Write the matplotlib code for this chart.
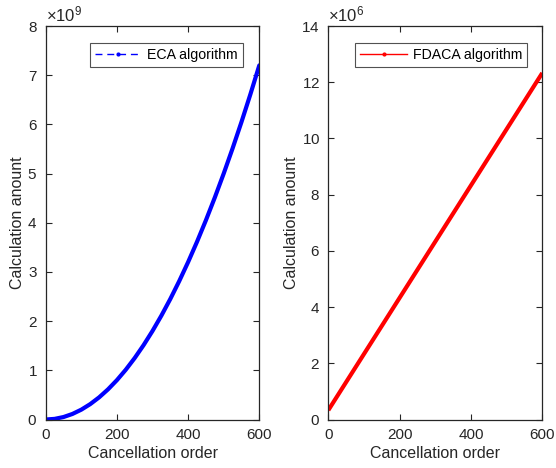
import matplotlib
matplotlib.use("Agg")
import matplotlib.pyplot as plt
from matplotlib.lines import Line2D
from matplotlib.ticker import ScalarFormatter

plt.rcParams['font.family'] = ['Liberation Sans', 'DejaVu Sans']
plt.rcParams['mathtext.fontset'] = 'custom'
plt.rcParams['mathtext.rm'] = 'Liberation Sans'
plt.rcParams['mathtext.it'] = 'Liberation Sans'

# Data
eca_order = [0, 25, 50, 75, 100, 125, 150, 175, 200, 225, 250, 275, 300,
             325, 350, 375, 400, 425, 450, 475, 500, 525, 550, 575, 600]
eca_calc_e9 = [0.0, 0.0125, 0.05, 0.1125, 0.2, 0.3125, 0.45, 0.6125, 0.8, 1.0125,
               1.25, 1.5125, 1.8, 2.1125, 2.45, 2.8125, 3.2, 3.6125, 4.05, 4.5125,
               5.0, 5.5125, 6.05, 6.6125, 7.2]
fdaca_order = [0, 100, 200, 300, 400, 500, 600]
fdaca_calc_e6 = [0.33, 2.33, 4.33, 6.33, 8.33, 10.33, 12.33]

eca_label = 'ECA algorithm'
fdaca_label = 'FDACA algorithm'
xlabel = 'Cancellation order'
ylabel = 'Calculation anount'

ink = '#262626'

fig = plt.figure(figsize=(5.56, 4.68), dpi=100)
W, H = 556, 468
ax1 = fig.add_axes([45.7 / W, 1 - 419.5 / H, 213.6 / W, 393.5 / H])
ax2 = fig.add_axes([328.3 / W, 1 - 419.5 / H, 214.0 / W, 393.5 / H])

ax1.plot(eca_order, [v * 1e9 for v in eca_calc_e9], color='#0000ff', lw=3.0,
         solid_capstyle='round')
ax2.plot(fdaca_order, [v * 1e6 for v in fdaca_calc_e6], color='#ff0000', lw=3.0,
         solid_capstyle='butt')

ax1.set_ylim(0, 8e9)
ax1.set_yticks([i * 1e9 for i in range(9)])
ax2.set_ylim(0, 14e6)
ax2.set_yticks([i * 2e6 for i in range(8)])

for ax, exp in ((ax1, 9), (ax2, 6)):
    ax.set_xlim(0, 600)
    ax.set_xticks([0, 200, 400, 600])
    fmt = ScalarFormatter(useMathText=True)
    fmt.set_powerlimits((exp, exp))
    ax.yaxis.set_major_formatter(fmt)
    ax.tick_params(direction='in', top=True, right=True, length=4, width=0.8,
                   colors=ink, labelsize=11, pad=6)
    for s in ax.spines.values():
        s.set_color(ink)
        s.set_linewidth(0.9)
    ax.set_xlabel(xlabel, fontsize=11.5, color=ink, labelpad=3)
    ax.set_ylabel(ylabel, fontsize=11.5, color=ink, labelpad=1.5)
    ax.yaxis.get_offset_text().set_fontsize(12)
    ax.yaxis.get_offset_text().set_color(ink)

h1 = Line2D([], [], color='#0000ff', ls=(0, (5, 3.5)), lw=1, marker='.', markersize=4)
h2 = Line2D([], [], color='#ff0000', ls='-', lw=1, marker='.', markersize=4)
for ax, h, lab, ax_x in ((ax1, h1, eca_label, 0.924), (ax2, h2, fdaca_label, 0.9285)):
    leg = ax.legend([h], [lab], loc='upper right', bbox_to_anchor=(ax_x, 0.957),
                    fontsize=10.2, handlelength=3.3, frameon=True, fancybox=False,
                    borderpad=0.35, handletextpad=0.4, borderaxespad=0.0)
    leg.get_frame().set_edgecolor(ink)
    leg.get_frame().set_linewidth(0.8)
    for t in leg.get_texts():
        t.set_color('black')

fig.savefig('out.png', dpi=100)
